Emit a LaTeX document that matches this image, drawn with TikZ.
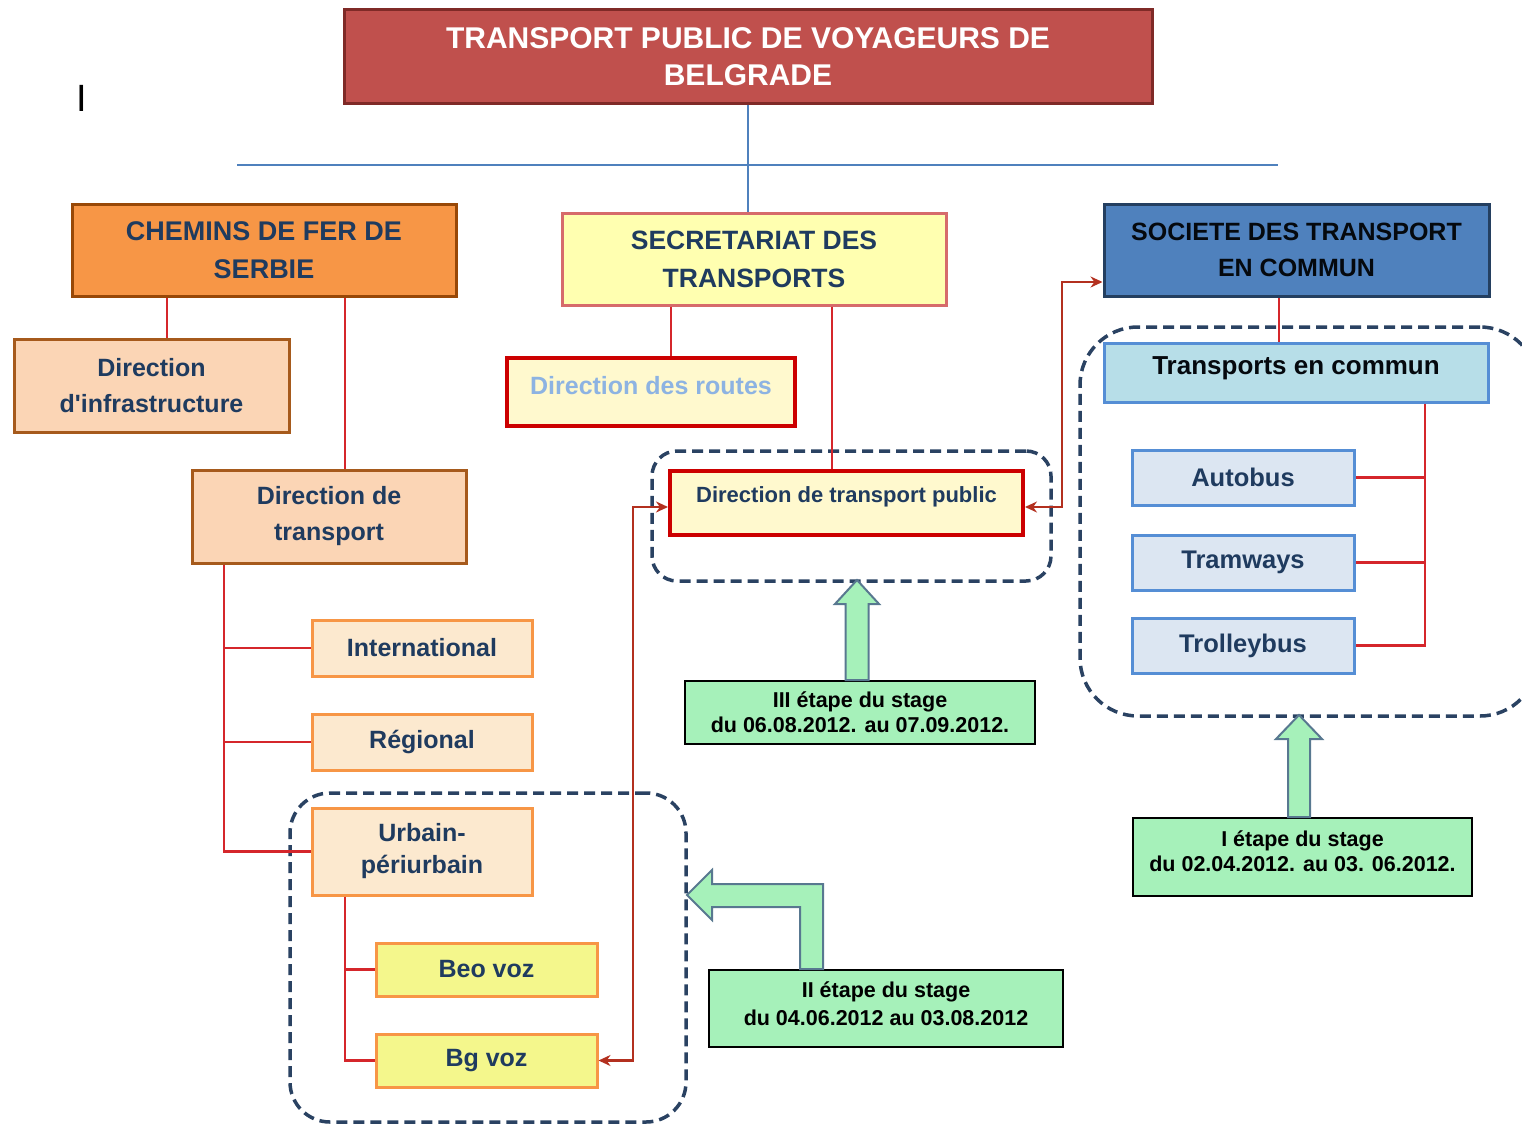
\documentclass[tikz,border=0pt]{standalone}
\usepackage{fontspec}
\setmainfont{Liberation Sans}[Ligatures=TeXOff]
\usetikzlibrary{shapes, arrows, arrows.meta}

\definecolor{navy}{HTML}{1F3B5F}
\definecolor{redhead}{HTML}{C0504D}
\definecolor{redrim}{HTML}{7F2A27}
\definecolor{orangehead}{HTML}{F79646}
\definecolor{brownrim}{HTML}{984807}
\definecolor{paleyellow}{HTML}{FFFFB0}
\definecolor{pinkrim}{HTML}{D66B6B}
\definecolor{bluehead}{HTML}{4F81BD}
\definecolor{bluerim}{HTML}{243F60}
\definecolor{peach}{HTML}{FBD5B5}
\definecolor{peachrim}{HTML}{A65A1C}
\definecolor{lightpeach}{HTML}{FCE9CF}
\definecolor{vozyellow}{HTML}{F4F78C}
\definecolor{cream}{HTML}{FFF9CE}
\definecolor{strongred}{HTML}{CC0000}
\definecolor{routeblue}{HTML}{8DB3E2}
\definecolor{lightcyan}{HTML}{B7DEE8}
\definecolor{midblue}{HTML}{558ED5}
\definecolor{paleblue}{HTML}{DCE6F2}
\definecolor{mint}{HTML}{A6F1BA}
\definecolor{slate}{HTML}{587890}
\definecolor{treered}{HTML}{D5262B}
\definecolor{linkred}{HTML}{B3301F}
\definecolor{dashnavy}{HTML}{2A4262}

\tikzstyle{header} = [rectangle, minimum width=808pt, minimum height=93pt, text centered, align=center, draw=redrim, line width=3pt, fill=redhead, text=white, font=\bfseries\fontsize{30}{37}\selectfont]
\tikzstyle{serbia} = [rectangle, minimum width=384pt, minimum height=92pt, text centered, align=center, draw=brownrim, line width=3pt, fill=orangehead, text=navy, font=\bfseries\fontsize{27}{38}\selectfont]
\tikzstyle{ministry} = [rectangle, minimum width=384pt, minimum height=92pt, text centered, align=center, draw=pinkrim, line width=3pt, fill=paleyellow, text=navy, font=\bfseries\fontsize{26.5}{38}\selectfont]
\tikzstyle{company} = [rectangle, minimum width=385pt, minimum height=92pt, text centered, align=center, draw=bluerim, line width=3pt, fill=bluehead, text=black!85!navy, font=\bfseries\fontsize{25}{36}\selectfont]
\tikzstyle{dirbox} = [rectangle, minimum width=275pt, minimum height=93pt, text centered, align=center, draw=peachrim, line width=3pt, fill=peach, text=navy, font=\bfseries\fontsize{25}{36}\selectfont]
\tikzstyle{railbox} = [rectangle, minimum width=220pt, minimum height=56pt, text centered, align=center, draw=orangehead, line width=3pt, fill=lightpeach, text=navy, font=\bfseries\fontsize{25}{32}\selectfont]
\tikzstyle{vozbox} = [rectangle, minimum width=221pt, minimum height=53pt, text centered, draw=orangehead, line width=3pt, fill=vozyellow, text=navy, font=\bfseries\fontsize{25}{30}\selectfont]
\tikzstyle{office} = [rectangle, text centered, draw=strongred, line width=4pt, fill=cream, text=navy, font=\bfseries\fontsize{25}{30}\selectfont]
\tikzstyle{network} = [rectangle, minimum width=384pt, minimum height=59pt, text centered, draw=midblue, line width=3pt, fill=lightcyan, text=black!85!navy, text depth=13pt, font=\bfseries\fontsize{26}{30}\selectfont]
\tikzstyle{modebox} = [rectangle, minimum width=222pt, minimum height=55pt, text centered, draw=midblue, line width=3pt, fill=paleblue, text=navy, font=\bfseries\fontsize{25.5}{30}\selectfont]
\tikzstyle{stage} = [rectangle, text centered, align=center, draw=black, line width=2pt, fill=mint, text=black, font=\bfseries\fontsize{21.5}{25}\selectfont]
\tikzstyle{group} = [rectangle, draw=dashnavy, line width=3.5pt, dash pattern=on 11pt off 6pt]
\tikzstyle{trunk} = [draw=bluehead, line width=2.5pt]
\tikzstyle{edge} = [draw=treered, line width=2.5pt]
\tikzstyle{link} = [draw=linkred, line width=2.5pt, {Stealth[length=12pt, width=11pt]}-{Stealth[length=12pt, width=11pt]}]
\tikzstyle{bigarrow} = [draw=slate, fill=mint, line width=2pt, line join=miter]

\begin{document}
\begin{tikzpicture}[x=1pt, y=-1pt]
\useasboundingbox (0,0) rectangle (1522,1124);

% dashed groups
\node (21) [group, minimum width=396pt, minimum height=329pt, rounded corners=40pt] at (488,957.5) {};
\node (22) [group, minimum width=399pt, minimum height=130pt, rounded corners=25pt] at (851.5,516) {};
\node (23) [group, minimum width=458pt, minimum height=389pt, rounded corners=58pt] at (1309,521.5) {};

\node (0) [header] at (748,56.5) {TRANSPORT PUBLIC DE VOYAGEURS DE\\BELGRADE};
\node (1) [serbia] at (264,250) {CHEMINS DE FER DE\\SERBIE};
\node (2) [ministry] at (754,259) {SECRETARIAT DES\\TRANSPORTS};
\node (3) [company] at (1296.5,250) {SOCIETE DES TRANSPORT\\EN COMMUN};
\node (4) [dirbox] at (151.5,385.5) {Direction\\d'infrastructure};
\node (5) [dirbox, minimum width=274pt] at (329,516.5) {Direction de\\transport};
\node (6) [railbox] at (422,648) {International};
\node (7) [railbox] at (422,742) {Régional};
\node (8) [railbox, minimum height=87pt] at (422,851.5) {Urbain-\\périurbain};
\node (9) [vozbox] at (486.5,969.5) {Beo voz};
\node (10) [vozbox] at (486.5,1060.5) {Bg voz};
\node (11) [office, minimum width=288pt, minimum height=68pt, text=routeblue, text depth=14pt] at (651,392) {Direction des routes};
\node (12) [office, minimum width=353pt, minimum height=64pt, text depth=16pt, font=\bfseries\fontsize{22}{26}\selectfont] at (846.5,503) {Direction de transport public};
\node (13) [network] at (1296,372.5) {Transports en commun};
\node (14) [modebox] at (1243,477.5) {Autobus};
\node (15) [modebox] at (1243,562.5) {Tramways};
\node (16) [modebox] at (1243,645.5) {Trolleybus};
\node (17) [stage, minimum width=350pt, minimum height=63pt] at (860,712.5) {III étape du stage\\du 06.08.2012. au 07.09.2012.};
\node (18) [stage, minimum width=339pt, minimum height=78pt, text depth=12pt] at (1302.5,857) {I étape du stage\\du 02.04.2012. au 03. 06.2012.};
\node (19) [stage, minimum width=354pt, minimum height=77pt, text depth=10pt, font=\bfseries\fontsize{21.5}{28}\selectfont] at (886,1008.5) {II étape du stage\\du 04.06.2012 au 03.08.2012};
\node (20) [font=\fontsize{38}{40}\selectfont] at (82,98.5) {I};

\coordinate (h0) at (237,165);
\coordinate (h1) at (1278,165);
\draw [trunk] (h0) -- (h1);
\draw [trunk] (0.south) -- (0.south |- 2.north);

\draw [edge] (167,0 |- 1.south) -- (167,0 |- 4.north);
\draw [edge] (345,0 |- 1.south) -- (345,0 |- 5.north);
\draw [edge] (224,0 |- 5.south) |- (8.west);
\draw [edge] (224,0 |- 6.west) -- (6.west);
\draw [edge] (224,0 |- 7.west) -- (7.west);
\draw [edge] (345,0 |- 8.south) |- (10.west);
\draw [edge] (345,0 |- 9.west) -- (9.west);
\draw [edge] (671,0 |- 2.south) -- (671,0 |- 11.north);
\draw [edge] (832,0 |- 2.south) -- (832,0 |- 12.north);
\draw [edge] (1279,0 |- 3.south) -- (1279,0 |- 13.north);
\draw [edge] (1425,0 |- 13.south) |- (16.east);
\draw [edge] (1425,0 |- 14.east) -- (14.east);
\draw [edge] (1425,0 |- 15.east) -- (15.east);

\coordinate (k0) at (633,507);
\coordinate (k1) at (1062,507);
\coordinate (k2) at (1062,282);
\draw [link] (10.east) -| (k0) -- (k0 -| 12.west);
\draw [link] (k1 -| 12.east) -- (k1) -- (k2) -- (k2 -| 3.west);

% stage arrows
\draw [bigarrow] ([xshift=-14.5pt]17.north) -- ++(0,-76) -- ++(-10.5,0) -- ++(22,-24) -- ++(22,24) -- ++(-10.5,0) -- ++(0,76) -- cycle;
\draw [bigarrow] ([xshift=-14.5pt]18.north) -- ++(0,-78) -- ++(-12,0) -- ++(23,-24) -- ++(23,24) -- ++(-12,0) -- ++(0,78) -- cycle;
\draw [bigarrow] ([xshift=-86pt]19.north) -- ++(0,-62) -- ++(-88,0) -- ++(0,13) -- ++(-25,-25) -- ++(25,-25) -- ++(0,14) -- ++(111,0) -- ++(0,85) -- cycle;

\end{tikzpicture}
\end{document}
